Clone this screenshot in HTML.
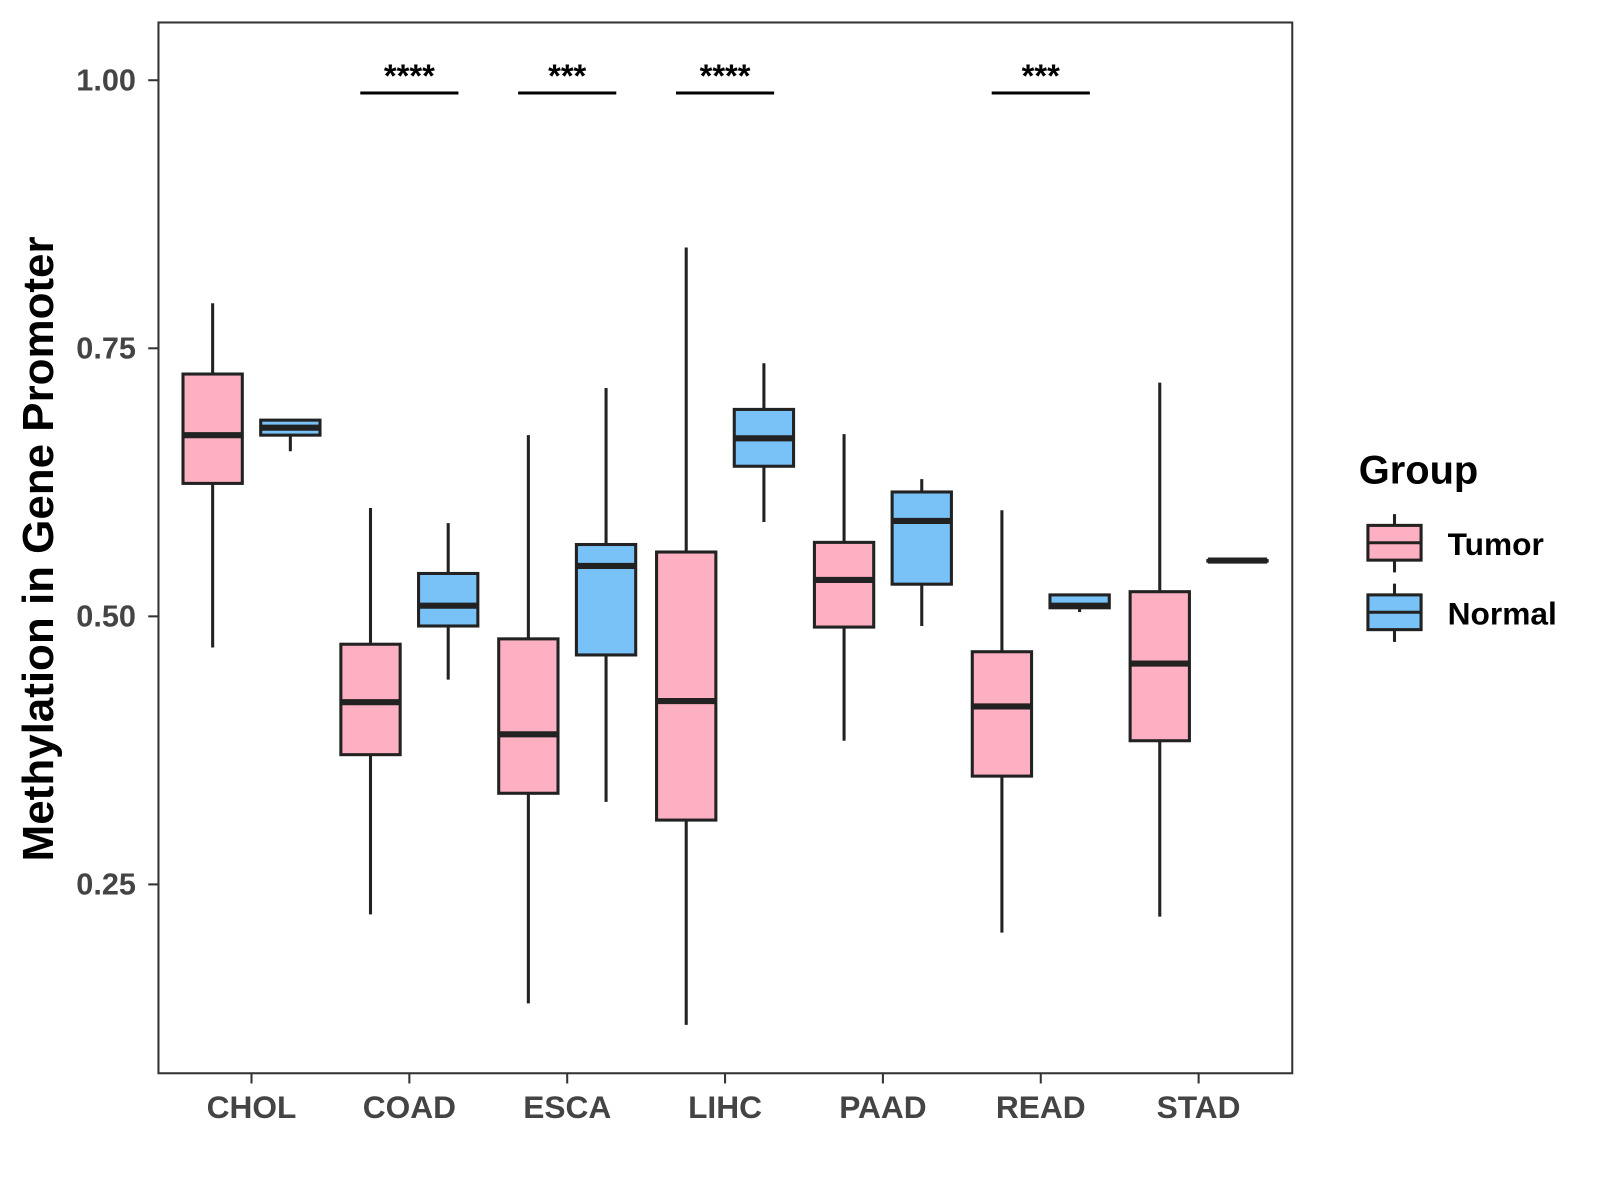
<!DOCTYPE html>
<html><head><meta charset="utf-8"><style>
body{margin:0;background:#fff}
svg{font-family:"Liberation Sans",Arial,sans-serif;font-weight:bold;display:block}
</style></head><body>
<svg id="chart" width="1600" height="1200" viewBox="0 0 1565 1174" preserveAspectRatio="none" xmlns="http://www.w3.org/2000/svg">
<rect x="0" y="0" width="1565" height="1174" fill="#fff"/>
<rect x="155" y="22" width="1109" height="1028" fill="none" stroke="#333" stroke-width="2"/>
<text transform="translate(52,537) rotate(-90)" text-anchor="middle" font-size="43" fill="#000">Methylation in Gene Promoter</text>
<g>
<text x="1329" y="473" font-size="39" fill="#000">Group</text>
<g>
<line x1="1364" y1="503" x2="1364" y2="560" stroke="#222" stroke-width="3"/>
<rect x="1338" y="514" width="52" height="34" fill="#FDB0C2" stroke="#222" stroke-width="3"/>
<line x1="1338" y1="531" x2="1390" y2="531" stroke="#222" stroke-width="3"/>
<text x="1416" y="543" font-size="31" fill="#000">Tumor</text></g>
<g>
<line x1="1364" y1="571" x2="1364" y2="628" stroke="#222" stroke-width="3"/>
<rect x="1338" y="582" width="52" height="34" fill="#79C2F7" stroke="#222" stroke-width="3"/>
<line x1="1338" y1="599" x2="1390" y2="599" stroke="#222" stroke-width="3"/>
<text x="1416" y="611" font-size="31" fill="#000">Normal</text></g>
</g>
<g id="marks"></g>
</svg>
<script>
const categories=["CHOL","COAD","ESCA","LIHC","PAAD","READ","STAD"];
// [low, q1, median, q3, high]
const tumorStats=[[0.471,0.624,0.669,0.726,0.792],[0.222,0.371,0.420,0.474,0.601],[0.139,0.335,0.390,0.479,0.669],[0.119,0.310,0.421,0.560,0.844],[0.384,0.490,0.534,0.569,0.670],[0.205,0.351,0.416,0.467,0.599],[0.220,0.384,0.456,0.523,0.718]];
const normalStats=[[0.654,0.669,0.676,0.683,0.683],[0.441,0.491,0.510,0.540,0.587],[0.327,0.464,0.547,0.567,0.713],[0.588,0.640,0.666,0.693,0.736],[0.491,0.530,0.589,0.616,0.628],[0.504,0.508,0.510,0.520,0.520],[0.552,0.552,0.552,0.552,0.552]];
const yTicks=[0.25,0.50,0.75,1.00];
const yTickLabels=["0.25","0.50","0.75","1.00"];
const sigCategories=["COAD","ESCA","LIHC","READ"];
const sigLabels=["****","***","****","***"];

const NS="http://www.w3.org/2000/svg";
const g=document.getElementById('marks');
const yScale=v=>603-(v-0.5)*1049;
const xScale=i=>246+i*154.4;
function el(tag,attrs,parent){const e=document.createElementNS(NS,tag);for(const k in attrs)e.setAttribute(k,attrs[k]);(parent||g).appendChild(e);return e;}

yTicks.forEach((t,i)=>{
  const y=yScale(t);
  const tk=el('line',{x1:145,x2:155,y1:y,y2:y,stroke:'#333','stroke-width':2});
  
  
  const tx=el('text',{x:133,y:y+10,'text-anchor':'end','font-size':30,fill:'#444'});
  
  
  tx.textContent=yTickLabels[i];
});
categories.forEach((c,i)=>{
  const x=xScale(i);
  const tk=el('line',{x1:x,x2:x,y1:1050,y2:1060,stroke:'#333','stroke-width':2});
  
  
  const tx=el('text',{x:x,y:1094,'text-anchor':'middle','font-size':31,fill:'#444'});
  
  
  tx.textContent=c;
});
function drawBox(s,cx,fill,name){
  const grp=el('g',{});
  
  
  const w=58;
  el('line',{x1:cx,x2:cx,y1:yScale(s[4]),y2:yScale(s[0]),stroke:'#222','stroke-width':3},grp);
  const top=yScale(s[3]),bot=yScale(s[1]);
  el('rect',{x:cx-w/2,y:top,width:w,height:Math.max(bot-top,0.5),fill:fill,stroke:'#222','stroke-width':3},grp);
  el('line',{x1:cx-w/2,x2:cx+w/2,y1:yScale(s[2]),y2:yScale(s[2]),stroke:'#222','stroke-width':6},grp);
}
categories.forEach((c,i)=>{
  drawBox(tumorStats[i],xScale(i)-38,'#FDB0C2','box-tumor-'+c.toLowerCase());
  drawBox(normalStats[i],xScale(i)+38,'#79C2F7','box-normal-'+c.toLowerCase());
});
sigCategories.forEach((c,j)=>{
  const i=categories.indexOf(c);const x=xScale(i);
  const ln=el('line',{x1:x-48,x2:x+48,y1:91,y2:91,stroke:'#000','stroke-width':3});
  
  
  const tx=el('text',{x:x,y:85,'text-anchor':'middle','font-size':32,fill:'#000'});
  
  
  tx.textContent=sigLabels[j];
});
</script>
</body></html>
